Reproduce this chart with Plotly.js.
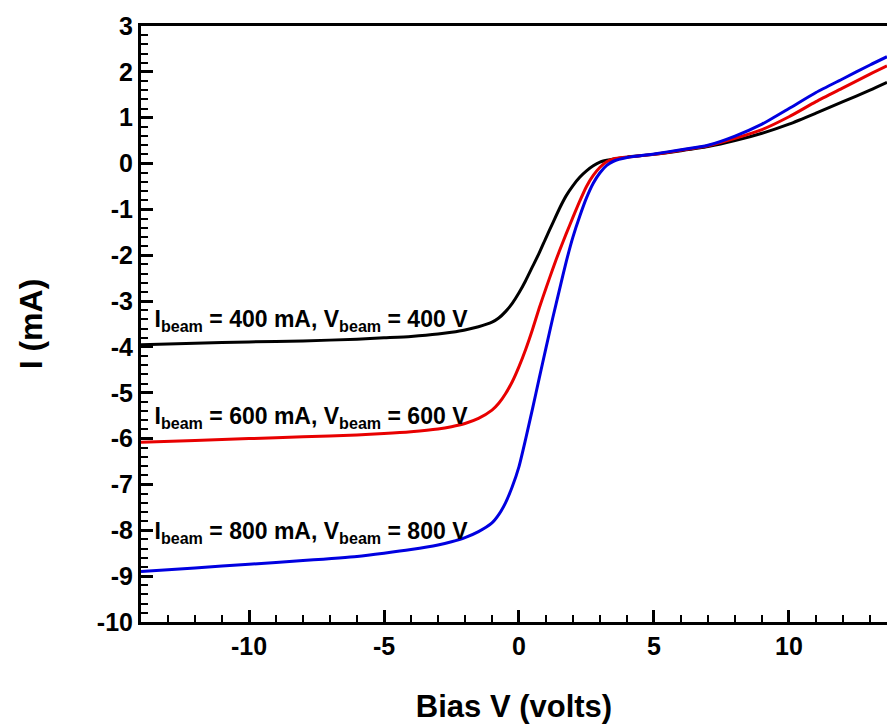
<!DOCTYPE html>
<html>
<head>
<meta charset="utf-8">
<script src="https://cdn.plot.ly/plotly-3.0.1.min.js"></script>
<style>html,body{margin:0;padding:0;background:#fff;}#chart{width:887px;height:724px;}</style>
</head>
<body>
<div id="chart"></div>
<script>
const biasV = [-14,-12,-10,-8,-6,-5,-4,-3,-2.5,-2,-1.5,-1,-0.75,-0.5,-0.25,0,0.25,0.5,0.75,1,1.25,1.5,1.75,2,2.25,2.5,2.75,3,3.25,3.5,4,5,6,7,8,9,10,11,12,13,13.63];
const current400 = [-3.95,-3.92,-3.89,-3.87,-3.83,-3.80,-3.77,-3.72,-3.68,-3.63,-3.56,-3.46,-3.37,-3.23,-3.05,-2.82,-2.55,-2.25,-1.95,-1.62,-1.3,-0.98,-0.7,-0.48,-0.3,-0.16,-0.05,0.03,0.07,0.1,0.14,0.2,0.28,0.37,0.5,0.66,0.86,1.1,1.35,1.6,1.77];
const current600 = [-6.08,-6.04,-6.0,-5.96,-5.92,-5.89,-5.85,-5.79,-5.74,-5.67,-5.56,-5.38,-5.23,-5.02,-4.76,-4.43,-4.05,-3.62,-3.15,-2.72,-2.3,-1.9,-1.53,-1.17,-0.82,-0.5,-0.26,-0.08,0.04,0.1,0.14,0.2,0.29,0.39,0.55,0.74,1.02,1.35,1.65,1.95,2.13];
const current800 = [-8.9,-8.82,-8.74,-8.66,-8.57,-8.50,-8.42,-8.32,-8.25,-8.16,-8.03,-7.84,-7.66,-7.4,-7.05,-6.61,-6.0,-5.35,-4.68,-4.02,-3.37,-2.75,-2.14,-1.6,-1.15,-0.75,-0.43,-0.2,-0.04,0.05,0.13,0.21,0.3,0.4,0.6,0.86,1.2,1.55,1.85,2.15,2.33];
const seriesLabels = [
  'I<sub>beam</sub> = 400 mA, V<sub>beam</sub> = 400 V',
  'I<sub>beam</sub> = 600 mA, V<sub>beam</sub> = 600 V',
  'I<sub>beam</sub> = 800 mA, V<sub>beam</sub> = 800 V'
];
const labelX = [-13.5, -13.5, -13.5];
const labelY = [-3.45, -5.56, -8.06];
const xTickVals = [-10, -5, 0, 5, 10];
const xTickText = ['-10', '-5', '0', '5', '10'];
const yTickVals = [-10, -9, -8, -7, -6, -5, -4, -3, -2, -1, 0, 1, 2, 3];
const yTickText = ['-10', '-9', '-8', '-7', '-6', '-5', '-4', '-3', '-2', '-1', '0', '1', '2', '3'];
const colors = ['#000000', '#e80000', '#0000e0'];
const series = [current400, current600, current800];

const font = 'Arial, "Liberation Sans", sans-serif';
const traces = series.map((ys, i) => ({
  x: biasV, y: ys, type: 'scatter', mode: 'lines',
  line: {color: colors[i], width: 3, shape: 'spline', smoothing: 0.6},
  showlegend: false, hoverinfo: 'skip'
}));
traces.push({
  x: labelX, y: labelY, text: seriesLabels, type: 'scatter', mode: 'text',
  textposition: 'middle right', cliponaxis: false,
  textfont: {family: font, size: 23, weight: 'bold', color: '#000'},
  showlegend: false, hoverinfo: 'skip'
});

const layout = {
  width: 887, height: 724,
  margin: {l: 141, r: 0, t: 26, b: 102, pad: 0},
  paper_bgcolor: '#fff', plot_bgcolor: '#fff',
  font: {family: font, color: '#000'},
  showlegend: false,
  xaxis: {
    range: [-14, 13.63], tickmode: 'array', tickvals: xTickVals, ticktext: xTickText,
    ticks: 'inside', ticklen: 12, tickwidth: 3, tickcolor: '#000',
    minor: {dtick: 1, tick0: 0, ticks: 'inside', ticklen: 7, tickwidth: 2, tickcolor: '#000', showgrid: false},
    showline: true, mirror: true, linewidth: 3, linecolor: '#000', showgrid: false, zeroline: false,
    tickfont: {family: font, size: 25, weight: 'bold', color: '#000'},
    title: {text: 'Bias V (volts)', font: {family: font, size: 31, weight: 'bold', color: '#000'}, standoff: 37},
    automargin: false
  },
  yaxis: {
    range: [-10, 3], tickmode: 'array', tickvals: yTickVals, ticktext: yTickText,
    ticks: 'inside', ticklen: 12, tickwidth: 3, tickcolor: '#000',
    minor: {dtick: 0.2, tick0: 0, ticks: 'inside', ticklen: 7, tickwidth: 2, tickcolor: '#000', showgrid: false},
    showline: true, linewidth: 3, linecolor: '#000', showgrid: false, zeroline: false,
    tickfont: {family: font, size: 25, weight: 'bold', color: '#000'},
    title: {text: 'I (mA)', font: {family: font, size: 32, weight: 'bold', color: '#000'}, standoff: 45},
    automargin: false
  }
};
Plotly.newPlot('chart', traces, layout, {displayModeBar: false}).then(() => {
  document.querySelectorAll('path.xtick, path.ytick').forEach(p => { p.style.display = ''; p.style.visibility = 'visible'; });
});
</script>
</body>
</html>
